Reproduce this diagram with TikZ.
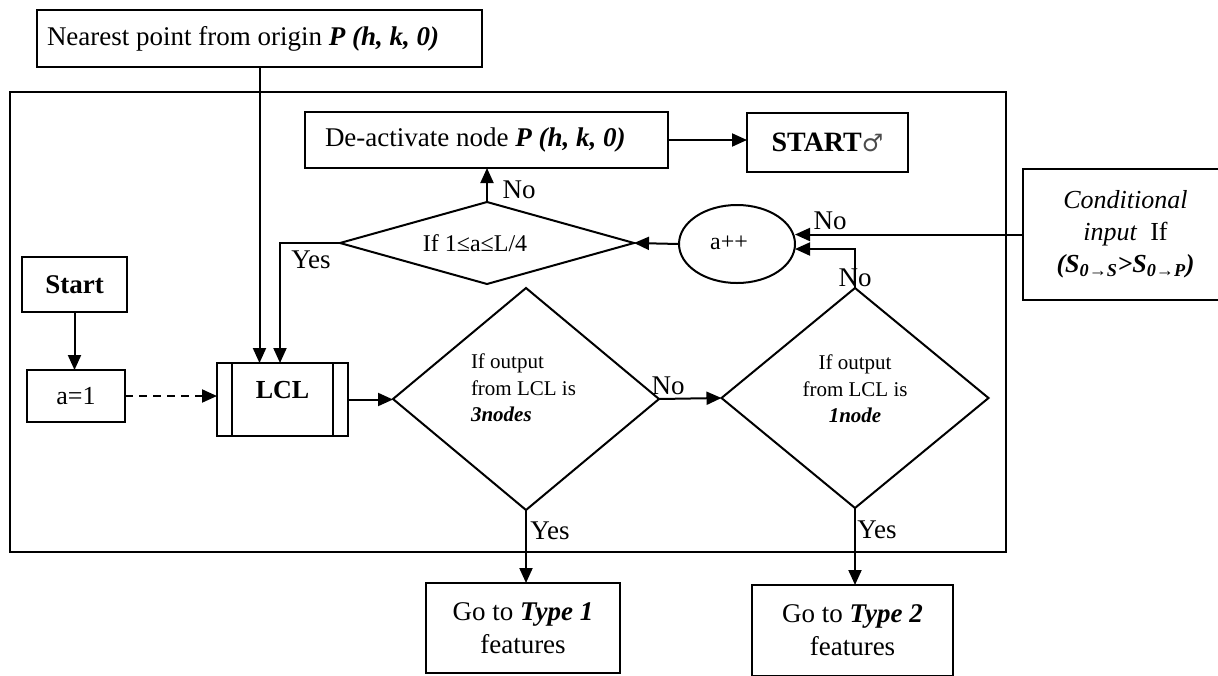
\documentclass[tikz,border=0pt]{standalone}
\usepackage{fontspec}
\setmainfont{Liberation Serif}
\newfontfamily\symfont{DejaVu Sans}
\usetikzlibrary{arrows.meta,shapes.geometric,calc}
\begin{document}
\begin{tikzpicture}[x=1pt,y=-1pt,
  every node/.style={inner sep=0pt, outer sep=0pt},
  box/.style={draw, line width=2pt, rectangle, align=center,
    font=\fontsize{27}{33}\selectfont},
  txt/.style={font=\fontsize{27}{33}\selectfont, anchor=west},
  dia/.style={draw, line width=2pt, diamond},
  conn/.style={line width=2pt, -{Triangle[length=15pt,width=13pt]}},
  lbl/.style={font=\fontsize{27}{32}\selectfont},
  small/.style={font=\fontsize{21}{26.5}\selectfont, align=left}]
\useasboundingbox (0,0) rectangle (1218,675);

% outer frame
\node[draw, line width=2.8pt, minimum width=996, minimum height=460] (frame) at (508,322) {};

% boxes
\node[box, minimum width=445, minimum height=57] (near) at (259.5,38.5) {};
\node[txt] (neartext) at (47,38.5) {Nearest point from origin \textbf{\textit{P (h, k, 0)}}};
\node[box, minimum width=363, minimum height=56] (deact) at (486.5,140) {};
\node[txt] (deacttext) at (325,140) {De-activate node \textbf{\textit{P (h, k, 0)}}};
\node[box, minimum width=161, minimum height=59, font=\fontsize{28}{33}\selectfont] (restart) at (827.5,142.5)
  {\textbf{START}{\symfont\fontsize{24}{28}\selectfont\color{black!70}♂}};
\node[box, minimum width=205, minimum height=131, font=\fontsize{26}{32}\selectfont] (cond) at (1125.5,234.5)
  {\textit{Conditional}\\\textit{input}\ \ If\\\textbf{\textit{(S\textsubscript{0→S}>S\textsubscript{0→P})}}};
\node[box, minimum width=105, minimum height=55] (start) at (74.5,284.5) {\textbf{Start}};
\node[box, minimum width=98, minimum height=52, font=\fontsize{26}{30}\selectfont] (a1) at (76,396) {a=1};
\node[box, minimum width=131, minimum height=73] (lcl) at (282.5,399.5) {};
\node[font=\fontsize{26}{30}\selectfont\bfseries] (lcltext) at (282.5,390) {LCL};
\draw[line width=2pt] ([xshift=15pt]lcl.north west) -- ([xshift=15pt]lcl.south west);
\draw[line width=2pt] ([xshift=-15pt]lcl.north east) -- ([xshift=-15pt]lcl.south east);
\node[box, minimum width=194, minimum height=90] (t1) at (523,628)
  {Go to \textbf{\textit{Type 1}}\\features};
\node[box, minimum width=201, minimum height=91] (t2) at (852.5,630.5)
  {Go to \textbf{\textit{Type 2}}\\features};

% decisions
\node[dia, minimum width=294, minimum height=82] (sd) at (487,243) {};
\node[font=\fontsize{24}{28}\selectfont] (sdtext) at (475,243) {If 1≤a≤L/4};
\node[draw, line width=2pt, ellipse, minimum width=116, minimum height=78] (ell) at (737,244) {};
\node[font=\fontsize{24}{28}\selectfont] (elltext) at (729,243) {a++};
\node[dia, minimum width=266, minimum height=222] (d1) at (526,399) {};
\node[small, anchor=west] (d1text) at (471,388)
  {If output\\from LCL is\\\textbf{\textit{3nodes}}};
\node[dia, minimum width=267, minimum height=220] (d2) at (855,398) {};
\node[small, align=center] (d2text) at (855,389)
  {If output\\from LCL is\\\textbf{\textit{1node}}};

% connectors
\draw[conn] (near.south) -- (near.south |- lcl.north);
\draw[conn] (sd.west) -| ([xshift=-2.5pt]lcl.north);
\draw[conn] (sd.north) -- (sd.north |- deact.south);
\draw[conn] (deact.east) -- (deact.east -| restart.west);
\draw[conn] (ell.west) -- (sd.east);
\draw[conn] (cond.west) -- (cond.west -| ell.east);
\draw[conn] (d2.north) |- ($(ell.east)+(0,5)$);
\draw[conn] (start.south) -- (start.south |- a1.north);
\draw[conn, dashed, dash pattern=on 8pt off 6pt] (a1.east) -- (a1.east -| lcl.west);
\draw[conn] (lcl.east) -- (lcl.east -| d1.west);
\draw[conn] (d1.east) -- (d2.west);
\draw[conn] (d1.south) -- (d1.south |- t1.north);
\draw[conn] (d2.south) -- (d2.south |- t2.north);

% branch labels
\node[lbl] (lyes1) at (311,260) {Yes};
\node[lbl] (lno1) at (519,190) {No};
\node[lbl] (lno2) at (830,221) {No};
\node[lbl] (lno3) at (855,278) {No};
\node[lbl] (lno4) at (668,386) {No};
\node[lbl] (lyes2) at (550,531) {Yes};
\node[lbl] (lyes3) at (877,530) {Yes};
\end{tikzpicture}
\end{document}
